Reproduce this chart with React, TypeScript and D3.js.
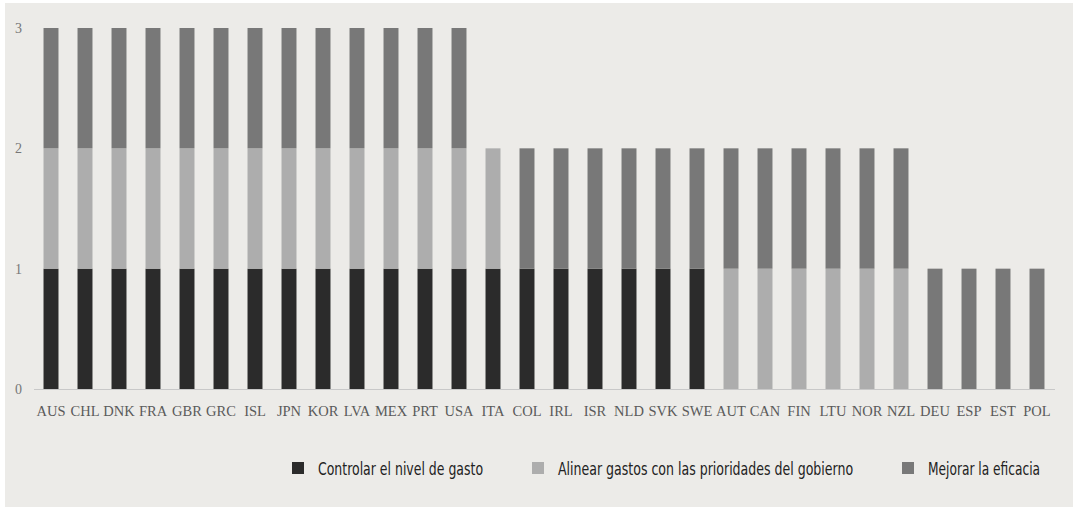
import React, { useLayoutEffect, useRef, useState } from "react";
import * as d3 from "d3";

const categories = ["AUS","CHL","DNK","FRA","GBR","GRC","ISL","JPN","KOR","LVA","MEX","PRT","USA","ITA","COL","IRL","ISR","NLD","SVK","SWE","AUT","CAN","FIN","LTU","NOR","NZL","DEU","ESP","EST","POL"];
const controlar = [1,1,1,1,1,1,1,1,1,1,1,1,1,1,1,1,1,1,1,1,0,0,0,0,0,0,0,0,0,0];
const alinear   = [1,1,1,1,1,1,1,1,1,1,1,1,1,1,0,0,0,0,0,0,1,1,1,1,1,1,0,0,0,0];
const mejorar   = [1,1,1,1,1,1,1,1,1,1,1,1,1,0,1,1,1,1,1,1,1,1,1,1,1,1,1,1,1,1];
const seriesNames = ["Controlar el nivel de gasto","Alinear gastos con las prioridades del gobierno","Mejorar la eficacia"];
const seriesColors = ["#2b2b2b","#adadad","#787878"];
const yTicks = [0,1,2,3];

export default function App() {
  const W = 1077, H = 510;
  const x = d3.scaleBand().domain(categories).range([34, 1054]).paddingInner(0.56).paddingOuter(0.28);
  const y = d3.scaleLinear().domain([0, 3]).range([389, 28]);
  const rows = categories.map((c, i) => ({ cat: c, s0: controlar[i], s1: alinear[i], s2: mejorar[i] }));
  const stacked = d3.stack<any>().keys(["s0","s1","s2"])(rows);
  const legendX = [292, 532, 902];
  const legendW = [165, 295, 112];
  const refs = useRef<(SVGTextElement | null)[]>([]);
  const [scales, setScales] = useState<number[]>([0.71, 0.71, 0.71]);
  useLayoutEffect(() => {
    const s = refs.current.map((el, i) => {
      if (!el) return 0.71;
      const w = el.getComputedTextLength();
      return w > 0 ? legendW[i] / w : 0.71;
    });
    setScales(s);
  }, []);
  return (
    <svg width={W} height={H} style={{ position: "absolute", left: 0, top: 0 }}>
      <rect x={0} y={0} width={W} height={H} fill="#ffffff" />
      <rect x={5} y={3} width={1068} height={504} fill="#ecebe8" />
      {stacked.map((layer, li) => (
        <g key={li} fill={seriesColors[li]}>
          {layer.map((d, i) => d[1] > d[0] ? (
            <rect key={i} x={x(categories[i])} y={y(d[1])} width={x.bandwidth()} height={y(d[0]) - y(d[1])} />
          ) : null)}
        </g>
      ))}
      <line x1={34} x2={1055} y1={y(0) + 0.5} y2={y(0) + 0.5} stroke="#c8c8c8" strokeWidth={1} />
      {yTicks.map(t => (
        <text key={t} x={18.5} y={y(t) + 5} fontFamily="Liberation Serif" fontSize={14} fill="#777" textAnchor="middle">{t}</text>
      ))}
      {categories.map(c => (
        <text key={c} x={(x(c) as number) + x.bandwidth() / 2} y={416} fontFamily="Liberation Serif" fontSize={14.5} fill="#5a5a5a" textAnchor="middle">{c}</text>
      ))}
      {seriesNames.map((n, i) => (
        <g key={n}>
          <rect x={legendX[i]} y={462} width={12} height={12} fill={seriesColors[i]} />
          <g transform={`translate(${legendX[i] + 26},475) scale(${scales[i]},1)`}>
            <text ref={el => { refs.current[i] = el; }} x={0} y={0} fontFamily="DejaVu Sans" fontSize={17.5} fill="#222">{n}</text>
          </g>
        </g>
      ))}
    </svg>
  );
}
